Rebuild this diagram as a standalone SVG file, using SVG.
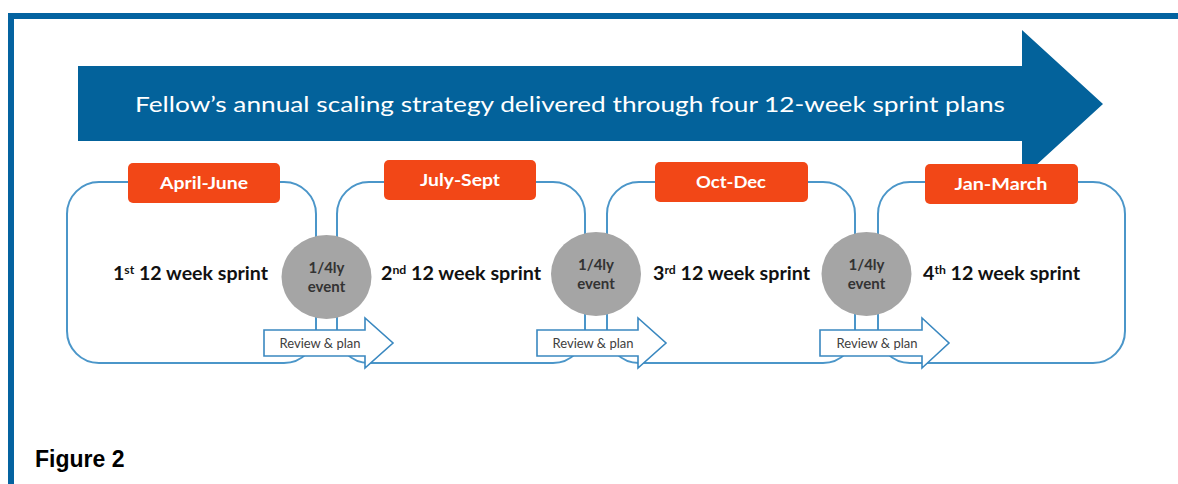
<svg xmlns="http://www.w3.org/2000/svg" width="1178" height="484" viewBox="0 0 1178 484">
  <style>
    .frame { fill: #0463a0; }
    .loop { fill: none; stroke: #4b96c9; stroke-width: 2; }
    .tag { fill: #f24717; }
    .tag-text { font-family: Lato, "Open Sans", sans-serif; font-weight: 700; font-size: 17.5px; fill: #ffffff; text-anchor: middle; }
    .sprint { font-family: Lato, "Open Sans", sans-serif; font-weight: 700; font-size: 18.5px; fill: #111111; }
    .sup { font-size: 11.5px; }
    .event { fill: #a5a5a5; }
    .event-text { font-family: Lato, "Open Sans", sans-serif; font-weight: 700; font-size: 15px; fill: #333333; text-anchor: middle; }
    .review { fill: #ffffff; stroke: #3a88c0; stroke-width: 1.6; stroke-linejoin: miter; }
    .review-text { font-family: Lato, "Open Sans", sans-serif; font-size: 13px; fill: #404040; text-anchor: middle; }
    .banner { fill: #03629b; }
    .banner-text { font-family: Lato, "Open Sans", sans-serif; font-size: 22px; fill: #ffffff; }
    .caption { font-family: "Liberation Sans", Arial, sans-serif; font-weight: 700; font-size: 23px; fill: #000000; }
  </style>

  <!-- page frame: top rule and left bar -->
  <g id="frame">
    <rect class="frame" x="8" y="13" width="1170" height="6"/>
    <rect class="frame" x="8" y="13" width="6" height="471"/>
  </g>

  <!-- strategy banner arrow -->
  <g id="banner">
    <path class="banner" d="M78,66 H1022 V30 L1103,104 L1022,178 V141 H78 Z"/>
    <text class="banner-text" x="135" y="112" textLength="870" lengthAdjust="spacingAndGlyphs">Fellow’s annual scaling strategy delivered through four 12-week sprint plans</text>
  </g>

  <!-- quarterly sprint loops -->
  <g id="sprint-1">
    <rect class="loop" x="67" y="182" width="249" height="181" rx="32" ry="32"/>
    <rect class="tag" x="128" y="163" width="152" height="40" rx="5"/>
    <text class="tag-text" x="204" y="189" textLength="88" lengthAdjust="spacingAndGlyphs">April-June</text>
    <text class="sprint" x="113" y="280" textLength="155" lengthAdjust="spacingAndGlyphs">1<tspan class="sup" dy="-6">st</tspan><tspan dy="6"> 12 week sprint</tspan></text>
  </g>

  <g id="sprint-2">
    <rect class="loop" x="337" y="182" width="248" height="181" rx="32" ry="32"/>
    <rect class="tag" x="384" y="160" width="152" height="40" rx="5"/>
    <text class="tag-text" x="460" y="186" textLength="80" lengthAdjust="spacingAndGlyphs">July-Sept</text>
    <text class="sprint" x="381" y="280" textLength="160" lengthAdjust="spacingAndGlyphs">2<tspan class="sup" dy="-6">nd</tspan><tspan dy="6"> 12 week sprint</tspan></text>
  </g>

  <g id="sprint-3">
    <rect class="loop" x="607" y="182" width="248" height="181" rx="32" ry="32"/>
    <rect class="tag" x="655" y="162" width="153" height="40" rx="5"/>
    <text class="tag-text" x="731" y="188" textLength="70" lengthAdjust="spacingAndGlyphs">Oct-Dec</text>
    <text class="sprint" x="653" y="280" textLength="157" lengthAdjust="spacingAndGlyphs">3<tspan class="sup" dy="-6">rd</tspan><tspan dy="6"> 12 week sprint</tspan></text>
  </g>

  <g id="sprint-4">
    <rect class="loop" x="878" y="182" width="247" height="181" rx="32" ry="32"/>
    <rect class="tag" x="925" y="164" width="153" height="40" rx="5"/>
    <text class="tag-text" x="1001" y="190" textLength="93" lengthAdjust="spacingAndGlyphs">Jan-March</text>
    <text class="sprint" x="923" y="280" textLength="157" lengthAdjust="spacingAndGlyphs">4<tspan class="sup" dy="-6">th</tspan><tspan dy="6"> 12 week sprint</tspan></text>
  </g>

  <!-- quarterly events -->
  <g id="event-1">
    <ellipse class="event" cx="326.5" cy="277" rx="45" ry="42"/>
    <text class="event-text" x="326.5" y="273">1/4ly</text>
    <text class="event-text" x="326.5" y="292">event</text>
  </g>
  <g id="event-2">
    <ellipse class="event" cx="596" cy="274" rx="45" ry="42"/>
    <text class="event-text" x="596" y="270">1/4ly</text>
    <text class="event-text" x="596" y="289">event</text>
  </g>
  <g id="event-3">
    <ellipse class="event" cx="866.5" cy="274" rx="45" ry="42"/>
    <text class="event-text" x="866.5" y="270">1/4ly</text>
    <text class="event-text" x="866.5" y="289">event</text>
  </g>

  <!-- review & plan hand-over arrows -->
  <g id="connectors">
    <path class="review" d="M264,330 H365 V318 L393,343 L365,368 V356 H264 Z"/>
    <text class="review-text" x="320" y="348">Review &amp; plan</text>
    <path class="review" d="M537,330 H638 V318 L666,343 L638,368 V356 H537 Z"/>
    <text class="review-text" x="593" y="348">Review &amp; plan</text>
    <path class="review" d="M820,330 H922 V318 L949,343 L922,368 V356 H820 Z"/>
    <text class="review-text" x="877" y="348">Review &amp; plan</text>
  </g>

  <text class="caption" x="35" y="467">Figure 2</text>
</svg>
